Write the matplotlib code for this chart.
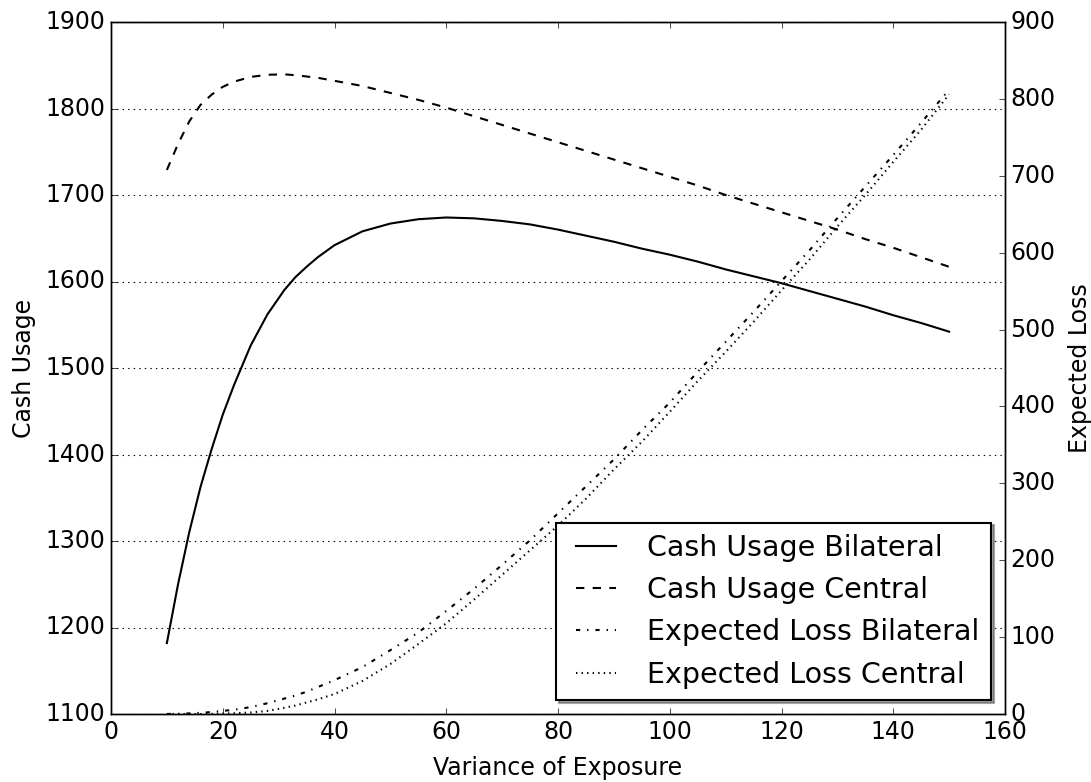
import matplotlib
matplotlib.use("Agg")
import matplotlib.pyplot as plt

variance = [10, 12, 14, 16, 18, 20, 22, 25, 28, 31, 33, 35, 37, 40, 45, 50, 55, 60, 65, 70, 75, 80,
            85, 90, 95, 100, 105, 110, 115, 120, 125, 130, 135, 140, 145, 150]
cash_bilateral = [1182, 1250, 1310, 1362, 1406, 1446, 1480, 1526, 1562, 1590, 1605, 1617, 1628, 1642, 1658, 1667, 1672, 1674, 1673, 1670, 1666, 1660,
                  1653, 1646, 1638, 1631, 1623, 1614, 1606, 1598, 1589, 1580, 1571, 1561, 1552, 1542]
cash_central = [1729, 1759, 1785, 1804, 1816, 1825, 1831, 1836.5, 1839, 1839.5, 1838.5, 1837, 1835.5, 1832, 1826, 1818, 1810, 1801, 1791, 1781, 1771, 1761,
                1751, 1741, 1731, 1721, 1711, 1700, 1690, 1680, 1670, 1660, 1649, 1639, 1628, 1617]
loss_bilateral = [0, 0.3, 0.8, 1.5, 2.5, 4, 5.5, 9, 14, 20, 24, 29, 35, 44, 61, 83, 106, 134, 163, 194, 226, 261,
                  296, 331, 369, 405, 445, 484, 523, 563, 603, 645, 686, 727, 769, 812]
loss_central = [0, 0, 0, 0, 0.2, 0.5, 1, 2, 4, 8, 11, 15, 19, 26, 43, 65, 91, 118, 149, 181, 213, 245,
                280, 318, 354, 393, 433, 471, 510, 551, 591, 634, 675, 718, 760, 806]

plt.style.use('classic')
fig = plt.figure(figsize=(10.91, 7.82), dpi=100)
ax = fig.add_axes([111/1091, 1-714/782, (1005-111)/1091, (714-22)/782])
ax2 = ax.twinx()

l1, = ax.plot(variance, cash_bilateral, 'k-', lw=1.5, label='Cash Usage Bilateral')
l2, = ax.plot(variance, cash_central, 'k--', lw=1.5, label='Cash Usage Central')
l3, = ax2.plot(variance, loss_bilateral, 'k-.', lw=1.5, label='Expected Loss Bilateral')
l4, = ax2.plot(variance, loss_central, 'k:', lw=1.5, label='Expected Loss Central')

ax.set_xlim(0, 160)
ax.set_ylim(1100, 1900)
ax2.set_ylim(0, 900)
ax.yaxis.grid(True, linestyle=':', color='k', lw=0.8)

ax.set_xlabel('Variance of Exposure', fontsize=17, labelpad=9)
ax.set_ylabel('Cash Usage', fontsize=17, labelpad=7)
ax2.set_ylabel('Expected Loss', fontsize=17, labelpad=9)
ax.tick_params(labelsize=17)
ax2.tick_params(labelsize=17)

lines = [l1, l2, l3, l4]
leg = ax2.legend(lines, [l.get_label() for l in lines],
                 loc='lower right', bbox_to_anchor=(0.9843, 0.0202), borderaxespad=0,
                 shadow=True, fontsize=20.5, handlelength=2.0, fancybox=False)
leg.get_frame().set_linewidth(1.5)

fig.savefig('out.png', dpi=100)
